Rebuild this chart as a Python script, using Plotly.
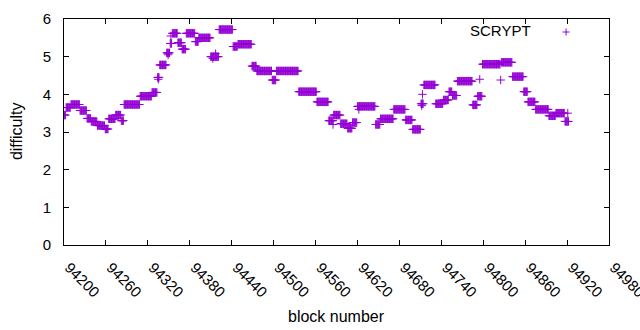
import numpy as np
import plotly.graph_objects as go

# Difficulty runs: consecutive blocks sharing one difficulty
run_start = [94200, 94203, 94210, 94223, 94233, 94239, 94248, 94259, 94264, 94274,
             94282, 94286, 94309, 94326, 94334, 94337, 94347, 94352, 94355, 94363,
             94369, 94375, 94388, 94393, 94410, 94422, 94442, 94449, 94469, 94476,
             94498, 94504, 94536, 94562, 94579, 94586, 94596, 94606, 94613, 94620,
             94646, 94653, 94672, 94689, 94699, 94711, 94715, 94732, 94743, 94751,
             94756, 94763, 94785, 94792, 94799, 94825, 94826, 94842, 94858, 94864,
             94875, 94894, 94904, 94917]
run_end = [94202, 94209, 94222, 94232, 94238, 94247, 94258, 94263, 94273, 94281,
           94285, 94308, 94325, 94333, 94336, 94346, 94351, 94354, 94362, 94368,
           94374, 94387, 94392, 94409, 94421, 94441, 94448, 94468, 94475, 94497,
           94503, 94535, 94561, 94578, 94585, 94595, 94605, 94612, 94619, 94645,
           94652, 94671, 94688, 94698, 94710, 94714, 94731, 94742, 94750, 94755,
           94762, 94784, 94791, 94798, 94824, 94825, 94841, 94857, 94863, 94874,
           94893, 94903, 94916, 94922]
run_value = [3.45, 3.65, 3.73, 3.57, 3.36, 3.28, 3.17, 3.08, 3.35, 3.45,
             3.30, 3.73, 3.95, 4.05, 4.45, 4.78, 5.10, 5.35, 5.62, 5.37,
             5.20, 5.62, 5.40, 5.50, 5.00, 5.72, 5.27, 5.33, 4.75, 4.62,
             4.38, 4.62, 4.07, 3.80, 3.30, 3.45, 3.22, 3.10, 3.25, 3.68,
             3.20, 3.35, 3.60, 3.32, 3.07, 3.75, 4.25, 3.75, 3.85, 4.07,
             3.97, 4.35, 3.72, 3.95, 4.80, 4.38, 4.85, 4.47, 4.07, 3.80,
             3.60, 3.43, 3.50, 3.28]

# A few stray points seen between the runs
extra_block = [94335, 94349, 94353, 94413, 94417, 94585, 94622, 94712, 94713, 94795, 94921]
extra_value = [4.40, 5.05, 5.55, 4.95, 5.08, 3.20, 3.60, 3.70, 4.00, 4.40, 3.50]

blocks = []
values = []
for s, e, v in zip(run_start, run_end, run_value):
    for b in range(s, e + 1):
        blocks.append(b)
        values.append(v)
blocks += extra_block
values += extra_value

x_ticks = list(range(94200, 94981, 60))
y_ticks = [0, 1, 2, 3, 4, 5, 6]

COLOR = "#9400D3"
FONT = "Liberation Sans"

fig = go.Figure()
fig.add_trace(go.Scatter(
    x=blocks, y=values, mode="markers", name="SCRYPT",
    marker=dict(symbol="cross-thin-open", size=6, color=COLOR,
                line=dict(color=COLOR, width=1)),
    showlegend=False, hoverinfo="skip",
))

fig.update_layout(
    width=640, height=330,
    margin=dict(l=64, r=31, t=19, b=85),
    paper_bgcolor="white", plot_bgcolor="white",
    font=dict(family=FONT, size=15, color="black"),
    xaxis=dict(
        range=[94200, 94980], tickvals=x_ticks, ticktext=[str(t) for t in x_ticks],
        tickangle=45, ticks="inside", ticklen=5, tickcolor="black",
        tickfont=dict(size=15), ticklabeloverflow="allow", ticklabelshift=5,
        showline=True, linecolor="black", linewidth=1, mirror="ticks",
        showgrid=False, zeroline=False, automargin=False, ticklabelstandoff=7,
    ),
    yaxis=dict(
        range=[0, 6], tickvals=y_ticks, ticks="inside", ticklen=5, tickcolor="black",
        tickfont=dict(size=15),
        showline=True, linecolor="black", linewidth=1, mirror="ticks",
        showgrid=False, zeroline=False, ticklabelstandoff=9, automargin=False,
    ),
)

# axis titles
fig.add_annotation(xref="paper", yref="paper", x=0.5, y=(245 - 316) / 226,
                   text="block number", showarrow=False, xanchor="center", yanchor="middle",
                   font=dict(family=FONT, size=16, color="black"))
fig.add_annotation(xref="paper", yref="paper", x=(16 - 64) / 546, y=(245 - 131) / 226,
                   text="difficulty", showarrow=False, xanchor="center", yanchor="middle",
                   textangle=-90, font=dict(family=FONT, size=16, color="black"))

# gnuplot-style key: text followed by the sample marker
fig.add_annotation(xref="paper", yref="paper", x=(534 - 64) / 546, y=(245 - 31) / 226,
                   text="SCRYPT", showarrow=False, xanchor="right", yanchor="middle",
                   font=dict(family=FONT, size=15, color="black"))
cx, cy = (567 - 64) / 546, (245 - 32) / 226
dx, dy = 3.5 / 546, 3.5 / 226
fig.add_shape(type="line", xref="paper", yref="paper", x0=cx - dx, x1=cx + dx, y0=cy, y1=cy,
              line=dict(color=COLOR, width=1))
fig.add_shape(type="line", xref="paper", yref="paper", x0=cx, x1=cx, y0=cy - dy, y1=cy + dy,
              line=dict(color=COLOR, width=1))

fig.write_html("out.html", config={"displayModeBar": False},
               post_script="document.body.style.margin='0';document.body.style.overflow='hidden';")
